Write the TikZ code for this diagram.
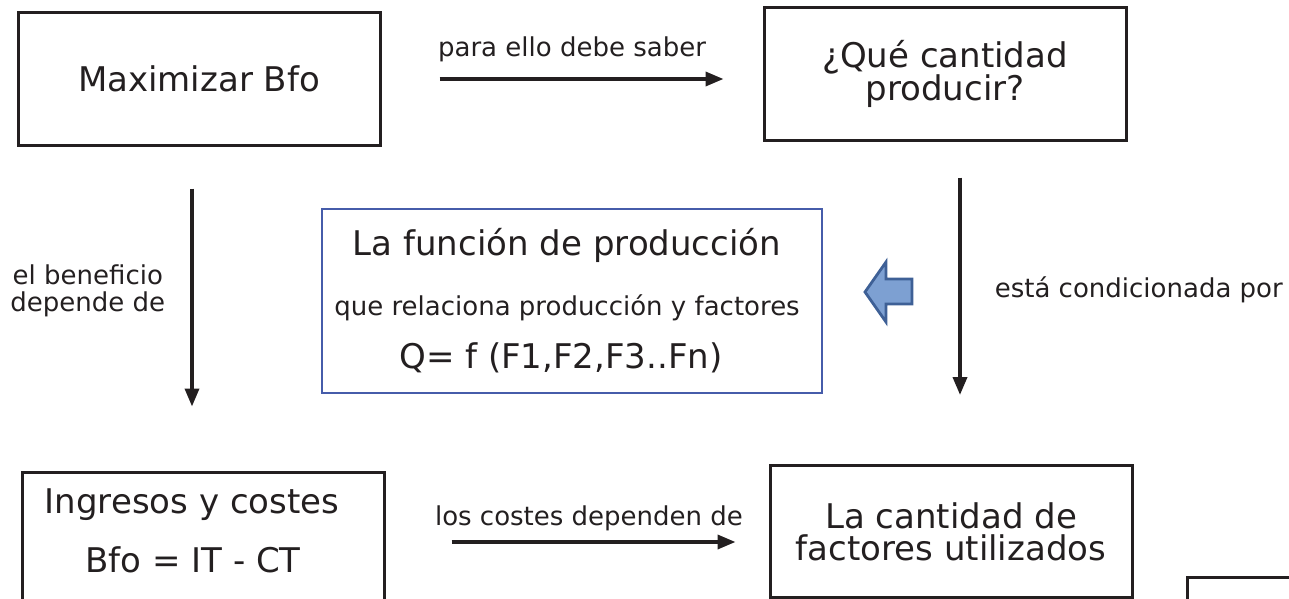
\documentclass[tikz,border=0pt]{standalone}
\usepackage{fontspec}
\setmainfont{DejaVu Sans}
\usepackage{tikz}
\usetikzlibrary{arrows.meta,positioning,calc}
\definecolor{ink}{RGB}{35, 31, 32}
\definecolor{boxblue}{RGB}{70, 92, 170}
\definecolor{hintedge}{RGB}{62, 96, 150}
\definecolor{hintfill}{RGB}{125, 160, 210}

\begin{document}
\begin{tikzpicture}[x=1pt, y=-1pt,
  box/.style={draw=ink, line width=3pt, rectangle, minimum width=362pt, minimum height=132pt, inner sep=0pt, align=center, text=ink, font=\fontsize{34}{32}\selectfont},
  funcbox/.style={draw=boxblue, line width=2.5pt, rectangle, minimum width=500pt, minimum height=184pt, inner sep=0pt},
  bigtxt/.style={anchor=base, inner sep=0pt, text=ink, font=\fontsize{34}{34}\selectfont},
  lbl/.style={inner sep=0pt, text=ink, align=center, font=\fontsize{26}{27}\selectfont},
  flow/.style={draw=ink, line width=3.6pt, -{Triangle[length=18pt, width=14pt]}},
  hint/.style={draw=hintedge, fill=hintfill, line width=2.8pt, line join=miter}
]
\useasboundingbox (0,0) rectangle (1289,599);
\clip (0,0) rectangle (1289,599);

\node[box] (maxbfo) at (199, 79) {Maximizar Bfo};
\node[box] (cantidad) at (945, 74) {¿Qué cantidad\\producir?};
\node[funcbox] (funcion) at (572, 301) {};
\node[bigtxt] (funtit) at (567, 255) {La función de producción};
\node[bigtxt, font=\fontsize{26}{26}\selectfont] (funrel) at (567, 315) {que relaciona producción y factores};
\node[bigtxt] (funeq) at (561, 368) {Q= f (F1,F2,F3..Fn)};
\node[box, minimum height=170pt] (ingresos) at (203, 557) {};
\node[bigtxt] (ingtit) at (192, 513) {Ingresos y costes};
\node[bigtxt] (ingeq) at (193, 572) {Bfo = IT - CT};
\node[box] (factores) at (951, 531.5) {La cantidad de\\factores utilizados};
\node[box, minimum width=200pt, minimum height=130pt] (nextbox) at (1287, 642) {};
\coordinate (low) at (0, 542);

% Connections
\draw[flow, shorten <=58pt, shorten >=39pt] (maxbfo.east) -- node[lbl, anchor=base, yshift=22pt] {para ello debe saber} (maxbfo.east -| cantidad.west);
\draw[flow, shorten <=42pt, shorten >=64pt] ([xshift=-7pt]maxbfo.south) -- node[lbl, left=25pt, yshift=18pt] {el beneficio\\depende de} ([xshift=-7pt]maxbfo.south |- ingresos.north);
\draw[flow, shorten <=36pt, shorten >=69pt] ([xshift=15pt]cantidad.south) -- node[lbl, right=33pt, yshift=13pt] {está condicionada por} ([xshift=15pt]cantidad.south |- factores.north);
\draw[flow, shorten <=66pt, shorten >=33pt] (ingresos.east |- low) -- node[lbl, anchor=base, xshift=12pt, yshift=17pt] {los costes dependen de} (factores.west |- low);

% hint arrow
\draw[hint] (865, 292) -- (886, 262) -- (886, 279) -- (912, 279) -- (912, 304) -- (886, 304) -- (886, 322) -- cycle;

\end{tikzpicture}
\end{document}
